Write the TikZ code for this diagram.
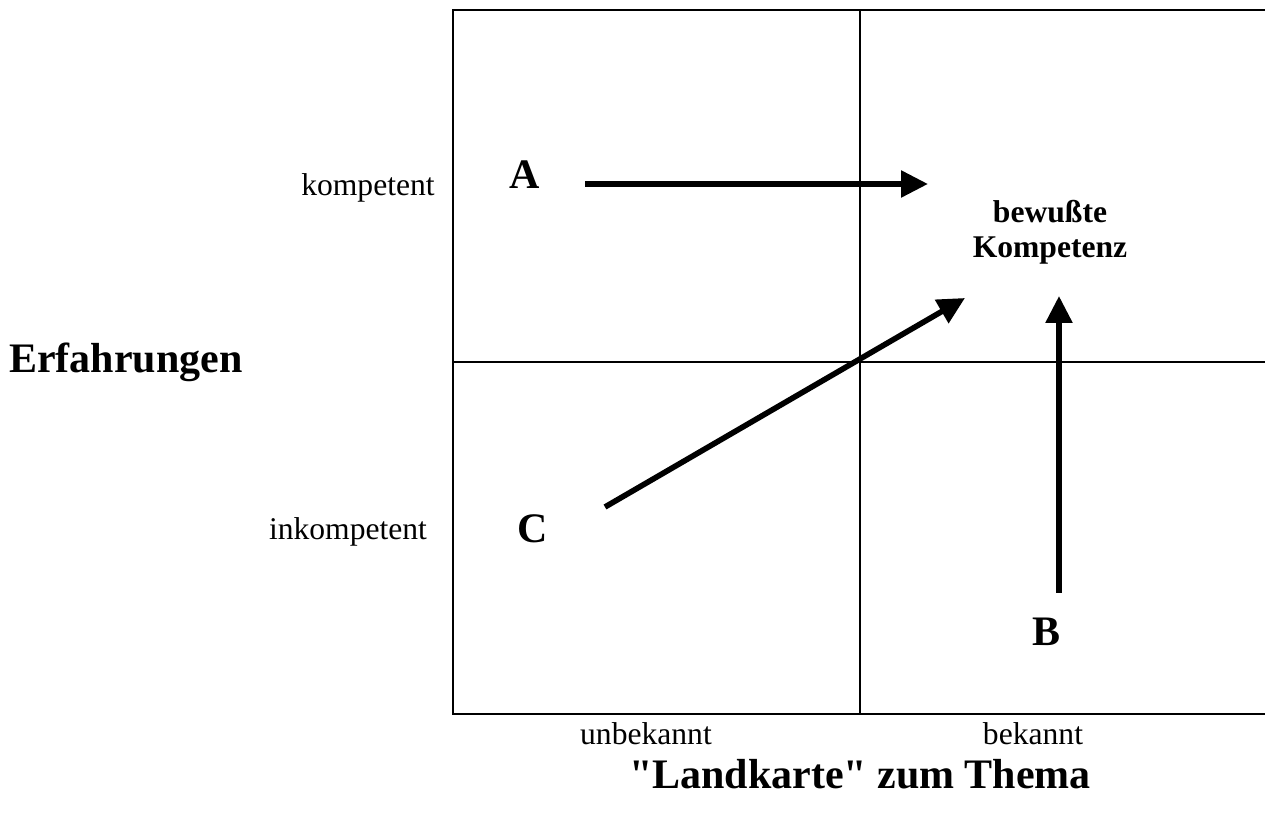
\documentclass[tikz,border=0pt]{standalone}
\usepackage{fontspec}
\setmainfont{Liberation Serif}[Ligatures=TeXOff]
\usetikzlibrary{arrows.meta,positioning}
\tikzset{
  basic/.style   = {inner sep=0pt, outer sep=0pt, font=\fontsize{15.8}{17.5}\selectfont},
  axislabel/.style = {basic, anchor=base},
  title/.style   = {basic, anchor=base, font=\fontsize{21}{25}\bfseries\selectfont},
  letter/.style  = {title},
  goal/.style    = {basic, align=center, font=\fontsize{15.8}{17.5}\bfseries\selectfont},
  grid/.style    = {line width=1pt},
  move/.style    = {-{Triangle[length=13.5pt,width=13pt]}, line width=2.8pt}
}

\begin{document}
\begin{tikzpicture}[x=0.5pt, y=-0.5pt]
\useasboundingbox (0,0) rectangle (1265,823);

% the field, open to the right
\draw[grid] (1265,10) -- (453,10) -- (453,714) -- (1265,714);
\draw[grid] (860,10) -- (860,714);
\draw[grid] (453,362) -- (1265,362);

% labels of both axes
\node[axislabel] (komp)   at (368,196) {kompetent};
\node[axislabel] (inkomp) at (348,540) {inkompetent};
\node[axislabel] (unbek)  at (646,745) {unbekannt};
\node[axislabel] (bek)    at (1033,745) {bekannt};
\node[title] (erf)  at (126,373) {Erfahrungen};
\node[title] (land) at (860,788) {"Landkarte" zum Thema};

% the three starting points and the goal
\node[letter] (A) at (525,189) {A};
\node[letter] (C) at (533,543) {C};
\node[letter] (B) at (1046,646) {B};
\node[goal] (goal) at (1050,232) {bewußte\\Kompetenz};

% ways to the goal
\coordinate (a1) at (585,184);
\coordinate (a2) at (928,184);
\coordinate (c1) at (605,507);
\coordinate (c2) at (965,298);
\coordinate (b1) at (1059,593);
\coordinate (b2) at (1059,296);

\draw[move] (a1) -- (a2);
\draw[move] (c1) -- (c2);
\draw[move] (b1) -- (b2);
\end{tikzpicture}
\end{document}
